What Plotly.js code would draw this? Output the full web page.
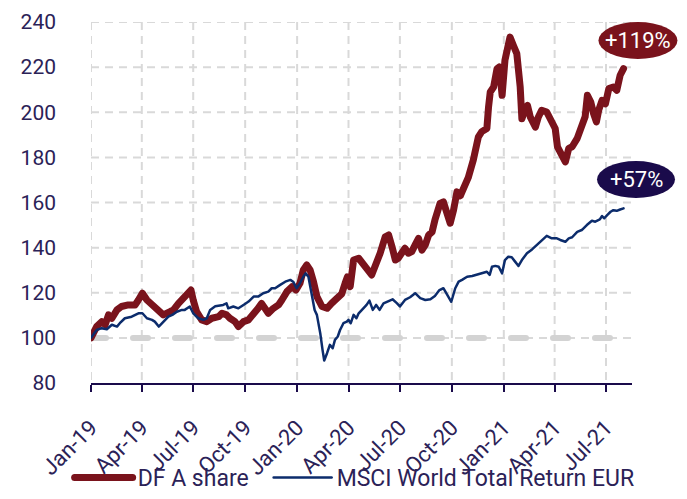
<!DOCTYPE html>
<html>
<head>
<meta charset="utf-8">
<script src="https://cdn.plot.ly/plotly-3.0.1.min.js"></script>
<style>
  html, body { margin: 0; padding: 0; background: #fff; }
  #chart { width: 687px; height: 499px; }
  .scatterlayer path.js-line { stroke-linecap: round; stroke-linejoin: round; }
  .legend path.js-line { stroke-linecap: round; }
</style>
</head>
<body>
<div id="chart"></div>
<script>
// ---- Data ----
const dfDates = [
 '2019-01-01','2019-01-11','2019-01-20','2019-01-26','2019-02-01','2019-02-07','2019-02-16','2019-02-24',
 '2019-03-08','2019-03-20','2019-03-26','2019-04-02','2019-04-10','2019-04-19','2019-04-27','2019-05-09',
 '2019-05-21','2019-05-27','2019-06-05','2019-06-14','2019-06-22','2019-06-27','2019-07-01','2019-07-07',
 '2019-07-16','2019-07-25','2019-08-03','2019-08-15','2019-08-21','2019-08-29','2019-09-04','2019-09-13',
 '2019-09-19','2019-09-28','2019-10-07','2019-10-16','2019-10-24','2019-10-30','2019-11-05','2019-11-11',
 '2019-11-20','2019-11-29','2019-12-05','2019-12-14','2019-12-23','2019-12-30','2020-01-06','2020-01-12',
 '2020-01-18','2020-01-24','2020-01-30','2020-02-05','2020-02-14','2020-02-23','2020-03-02','2020-03-11',
 '2020-03-20','2020-03-26','2020-03-30','2020-04-04','2020-04-10','2020-04-19','2020-04-25','2020-05-03',
 '2020-05-12','2020-05-18','2020-05-27','2020-06-05','2020-06-11','2020-06-17','2020-06-23','2020-06-28',
 '2020-07-04','2020-07-10','2020-07-16','2020-07-22','2020-07-28','2020-08-03','2020-08-09','2020-08-15',
 '2020-08-21','2020-08-27','2020-09-01','2020-09-10','2020-09-16','2020-09-22','2020-09-28','2020-10-04',
 '2020-10-10','2020-10-16','2020-10-22','2020-10-30','2020-11-08','2020-11-14','2020-11-17','2020-11-23',
 '2020-12-02','2020-12-05','2020-12-08','2020-12-14','2020-12-20','2020-12-24','2020-12-29','2021-01-03',
 '2021-01-09','2021-01-12','2021-01-18','2021-01-24','2021-01-30','2021-02-02','2021-02-08','2021-02-12',
 '2021-02-17','2021-02-26','2021-03-03','2021-03-09','2021-03-18','2021-03-27','2021-04-02','2021-04-06',
 '2021-04-11','2021-04-20','2021-04-26','2021-05-02','2021-05-11','2021-05-19','2021-05-25','2021-05-29',
 '2021-06-04','2021-06-09','2021-06-14','2021-06-18','2021-06-24','2021-06-30','2021-07-06','2021-07-14',
 '2021-07-20','2021-07-26','2021-08-01'
];
const dfValues = [
 100,105,107.2,105.8,110.2,108.7,112.4,113.9,
 114.6,114.6,116.8,119.8,116.8,114.6,112.4,110.2,
 111.6,112.4,115.3,117.6,119,121.2,116.8,111.6,
 108,107.2,108.7,109.4,110.9,110.2,108.7,107.2,
 105,107.2,108,110.2,113.1,115.3,113.1,110.9,
 113.1,114.6,116.8,120.5,122.7,121.2,124.2,130.1,
 132.3,130.1,124.9,118.3,113.9,113.1,115.3,117.6,
 119.5,124.2,127,122.7,134.5,135.3,133.8,130.8,
 127.9,131.5,137.5,144.8,145.6,140.4,134.5,135.3,
 138.2,139.7,137.5,138.2,141.2,144.1,138.9,141.2,
 145.6,147,152.2,159.6,160.3,155.2,150.8,156.6,
 164.7,163,166,171,178.8,184.7,189.1,191.4,
 192.8,202.4,209,211.2,219.3,220.1,207.5,223,
 231.9,233.3,229.6,226,211.2,197.1,201.5,203,
 197.8,193.4,197.8,200.9,200.1,195.7,192.8,184.7,
 181.7,178,184,184.7,188.4,193.5,198,207.5,
 204.5,199.4,195.7,200.9,205.3,203.8,210.5,211.2,
 209.7,216.4,219.3
];

const msciDates = [
 '2019-01-01','2019-01-11','2019-01-20','2019-01-29','2019-02-07','2019-02-16','2019-02-21','2019-03-02',
 '2019-03-14','2019-03-26','2019-04-02','2019-04-10','2019-04-19','2019-04-24','2019-05-01','2019-05-09',
 '2019-05-18','2019-05-25','2019-06-02','2019-06-11','2019-06-16','2019-06-25','2019-07-01','2019-07-10',
 '2019-07-19','2019-07-25','2019-07-31','2019-08-09','2019-08-18','2019-08-23','2019-08-29','2019-09-01',
 '2019-09-10','2019-09-19','2019-09-28','2019-10-07','2019-10-16','2019-10-24','2019-11-02','2019-11-11',
 '2019-11-17','2019-11-23','2019-12-02','2019-12-11','2019-12-20','2019-12-25','2019-12-31','2020-01-06',
 '2020-01-12','2020-01-16','2020-01-21','2020-01-27','2020-02-01','2020-02-05','2020-02-11','2020-02-15',
 '2020-02-18','2020-02-23','2020-02-28','2020-03-04','2020-03-08','2020-03-13','2020-03-17','2020-03-23',
 '2020-03-29','2020-04-01','2020-04-05','2020-04-10','2020-04-15','2020-04-19','2020-04-27','2020-05-03',
 '2020-05-08','2020-05-14','2020-05-20','2020-05-26','2020-06-02','2020-06-11','2020-06-18','2020-06-26',
 '2020-07-01','2020-07-10','2020-07-19','2020-07-28','2020-08-06','2020-08-15','2020-08-24','2020-09-01',
 '2020-09-09','2020-09-16','2020-09-21','2020-09-25','2020-09-30','2020-10-07','2020-10-13','2020-10-19',
 '2020-10-28','2020-11-06','2020-11-14','2020-11-23','2020-12-02','2020-12-07','2020-12-11','2020-12-17',
 '2020-12-23','2020-12-29','2021-01-03','2021-01-09','2021-01-15','2021-01-21','2021-01-27','2021-02-02',
 '2021-02-11','2021-02-20','2021-03-01','2021-03-09','2021-03-18','2021-03-27','2021-04-05','2021-04-11',
 '2021-04-20','2021-04-26','2021-05-02','2021-05-11','2021-05-19','2021-05-28','2021-06-06','2021-06-12',
 '2021-06-20','2021-06-24','2021-06-28','2021-07-03','2021-07-09','2021-07-14','2021-07-20','2021-07-26',
 '2021-08-01'
];
const msciValues = [
 100,103.5,104.3,103.8,105.8,105,106.5,108.7,
 109.4,110.9,110.9,108.7,108,107.2,105,107.2,
 109.4,110.2,111.6,112.4,112.4,113.9,110.9,108.7,
 108,108.7,112.4,114,114.2,114.6,115.3,113.1,
 113.9,113.1,114.6,116.1,118.3,118.3,119.8,120.5,
 122,122,123.5,124.9,125.7,124.9,122,124.2,
 127.1,128.6,127.1,119.8,112.4,110.2,102,94.7,
 90,93.2,96.9,95.4,99.1,100.6,103.5,106.5,
 107.2,108,106.5,110.2,108.7,110.9,113.1,114.6,
 116.5,112.4,114.6,112.4,115.3,116.5,117.1,115.3,
 113.9,116.8,118,119.8,117.6,116.8,117.1,118.6,
 121.2,122,119.8,117.6,116,122,124.9,125.7,
 127.1,127.4,127.9,128.6,129.3,127.9,131.5,131.9,
 131.5,128.6,134.5,136,135.7,133.8,131.9,134.5,
 137.5,139.2,141.2,143.4,145.2,144.1,144.1,143.4,
 142.6,144.1,144.6,147,147.8,150,151.9,151.5,
 152.5,154,153,154.4,155.9,156.6,156.3,156.9,
 157.4
];

const seriesNames = ['DF A share', 'MSCI World Total Return EUR'];
const endLabels = ['+119%', '+57%'];
const baselineDates = ['2019-01-01', '2021-08-01'];
const baselineValues = [100, 100];
const xTickDates = ['2019-01-01','2019-04-01','2019-07-01','2019-10-01','2020-01-01','2020-04-01',
                    '2020-07-01','2020-10-01','2021-01-01','2021-04-01','2021-07-01'];
const yTickValues = [80, 100, 120, 140, 160, 180, 200, 220, 240];
const xRange = ['2019-01-01', '2021-08-16'];
const yRange = [80, 240];

// ---- Styles ----
const RED = '#7a131c';
const BLUE = '#0c2c6c';
const NAVY = '#1a0b4b';
const TXT = '#2b2257';
const GRID = '#d9d9d9';
const FONT = 'Roboto, "Open Sans", sans-serif';

const traces = [
  {
    x: baselineDates, y: baselineValues, type: 'scatter', mode: 'lines', showlegend: false,
    line: { color: '#d3d3d3', width: 6, dash: '15px,27px' }, hoverinfo: 'skip'
  },
  {
    x: dfDates, y: dfValues, name: seriesNames[0], type: 'scatter', mode: 'lines',
    line: { color: RED, width: 7 }, hoverinfo: 'skip', legendwidth: 126
  },
  {
    x: msciDates, y: msciValues, name: seriesNames[1], type: 'scatter', mode: 'lines',
    line: { color: BLUE, width: 2.5 }, hoverinfo: 'skip'
  }
];

// dashed grid drawn as axis-referenced shapes under the traces
const gridShapes = [];
yTickValues.filter(v => v !== yRange[0]).forEach(v => gridShapes.push({
  type: 'line', xref: 'x', yref: 'y', x0: xRange[0], x1: xRange[1], y0: v, y1: v,
  line: { color: GRID, width: 2, dash: '8px,6px' }, layer: 'below'
}));
xTickDates.forEach(d => gridShapes.push({
  type: 'line', xref: 'x', yref: 'y', x0: d, x1: d, y0: yRange[1], y1: yRange[0],
  line: { color: GRID, width: 2, dash: '8px,6px' }, layer: 'below'
}));

const layout = {
  width: 687, height: 499,
  margin: { l: 91, r: 55, t: 22, b: 116, autoexpand: false },
  paper_bgcolor: '#ffffff', plot_bgcolor: '#ffffff',
  font: { family: FONT, color: TXT, size: 20 },
  showlegend: true,
  legend: {
    orientation: 'h', x: -0.0395, xanchor: 'left', y: -0.3213, yanchor: 'bottom',
    font: { family: FONT, size: 23, color: TXT },
    itemwidth: 58, traceorder: 'normal',
    borderwidth: 0, bgcolor: 'rgba(0,0,0,0)'
  },
  xaxis: {
    type: 'date', range: xRange, automargin: false,
    tickmode: 'array', tickvals: xTickDates, tickformat: '%b-%y',
    tickangle: -45, tickfont: { family: FONT, size: 22, color: TXT }, ticklabelstandoff: 14,
    showline: true, linecolor: NAVY, linewidth: 2,
    ticks: 'outside', ticklen: 7, tickwidth: 2, tickcolor: NAVY,
    showgrid: false, zeroline: false, fixedrange: true
  },
  yaxis: {
    range: yRange, tickmode: 'array', tickvals: yTickValues, automargin: false,
    tickfont: { family: FONT, size: 21, color: TXT },
    showline: false, ticks: '', ticklabelstandoff: 34,
    showgrid: false, zeroline: false, fixedrange: true
  },
  shapes: gridShapes.concat([
    {
      type: 'circle', xref: 'paper', yref: 'paper', xsizemode: 'pixel', ysizemode: 'pixel',
      xanchor: 1.011, yanchor: 0.9488, x0: -39.5, x1: 39.5, y0: -18.5, y1: 18.5,
      fillcolor: RED, line: { width: 0 }, layer: 'above'
    },
    {
      type: 'circle', xref: 'paper', yref: 'paper', xsizemode: 'pixel', ysizemode: 'pixel',
      xanchor: 1.0074, yanchor: 0.5637, x0: -39, x1: 39, y0: -18.5, y1: 18.5,
      fillcolor: NAVY, line: { width: 0 }, layer: 'above'
    }
  ]),
  annotations: [
    {
      xref: 'paper', yref: 'paper', x: 1.011, y: 0.9488, text: endLabels[0], showarrow: false,
      font: { family: FONT, size: 22, color: '#ffffff' }, xanchor: 'center', yanchor: 'middle'
    },
    {
      xref: 'paper', yref: 'paper', x: 1.0074, y: 0.5637, text: endLabels[1], showarrow: false,
      font: { family: FONT, size: 22, color: '#ffffff' }, xanchor: 'center', yanchor: 'middle'
    }
  ]
};

Plotly.newPlot('chart', traces, layout, { displayModeBar: false, staticPlot: true });
</script>
</body>
</html>
